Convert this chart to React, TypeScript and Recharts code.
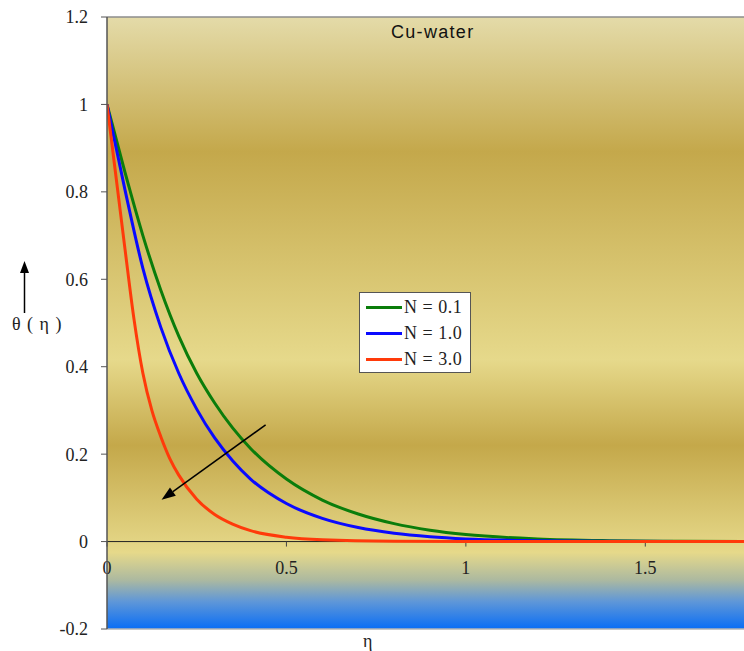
import { LineChart, Line, XAxis, YAxis, ReferenceArea, ReferenceLine, Legend } from "recharts";

// eta grid and theta(eta) values, one pair of arrays per curve
const etaN01 = [0, 0.05, 0.1, 0.15, 0.2, 0.25, 0.3, 0.35, 0.4, 0.5, 0.6, 0.7, 0.8, 0.9, 1.0, 1.2, 1.4, 1.6, 1.8];
const thetaN01 = [1, 0.845, 0.7, 0.575, 0.47, 0.385, 0.317, 0.26, 0.213, 0.143, 0.095, 0.063, 0.041, 0.026, 0.016, 0.006, 0.002, 0.0005, 0];

const etaN10 = [0, 0.05, 0.1, 0.15, 0.2, 0.25, 0.3, 0.35, 0.4, 0.5, 0.6, 0.7, 0.8, 0.9, 1.0, 1.2, 1.4, 1.6, 1.8];
const thetaN10 = [1, 0.805, 0.625, 0.49, 0.385, 0.303, 0.237, 0.185, 0.143, 0.087, 0.053, 0.032, 0.019, 0.011, 0.006, 0.002, 0.0005, 0, 0];

const etaN30 = [0, 0.025, 0.05, 0.075, 0.1, 0.125, 0.15, 0.175, 0.2, 0.25, 0.3, 0.35, 0.4, 0.5, 0.6, 0.8, 1.0, 1.4, 1.8];
const thetaN30 = [1, 0.835, 0.67, 0.51, 0.385, 0.3, 0.24, 0.19, 0.152, 0.097, 0.062, 0.04, 0.025, 0.01, 0.004, 0.0005, 0, 0, 0];

const seriesNames = ["N = 0.1", "N = 1.0", "N = 3.0"];
const seriesColors = ["#0b7d0b", "#0a0aff", "#ff3a0a"];

const xTicks = [0, 0.5, 1, 1.5];
const yTicks = [-0.2, 0, 0.2, 0.4, 0.6, 0.8, 1, 1.2];
const xDomain = [0, 1.775];
const yDomain = [-0.2, 1.2];

// direction arrow drawn inside the plot (data coords)
const arrowFrom = { x: 0.442, y: 0.267 };
const arrowTo = { x: 0.152, y: 0.0955 };

const W = 744;
const H = 651;
const MARGIN = { top: 17, right: 0, bottom: 22, left: 0 };
const PLOT_H = H - MARGIN.top - MARGIN.bottom;
const ZERO_Y = MARGIN.top + PLOT_H * (yDomain[1] / (yDomain[1] - yDomain[0]));

const serif = "'Liberation Serif', 'Times New Roman', serif";

const toPoints = (eta: number[], theta: number[]) => eta.map((e, i) => ({ eta: e, theta: theta[i] }));

// x ticks sit on the y=0 line inside the plot, so they are drawn from reference lines
const xTickShape = (label: number) => (props: any) => {
  const x = props.x1;
  return (
    <g>
      <line x1={x} x2={x} y1={ZERO_Y} y2={ZERO_Y + 5} stroke="#444" />
      <text x={x} y={ZERO_Y + 32} textAnchor="middle" fontFamily={serif} fontSize={18} fill="#222">
        {label}
      </text>
    </g>
  );
};

const ArrowShape = (props: any) => {
  const { x1, y1, x2, y2 } = props;
  const ang = Math.atan2(y2 - y1, x2 - x1);
  const len = 14;
  const half = 5;
  const bx = x2 - len * Math.cos(ang);
  const by = y2 - len * Math.sin(ang);
  const px = -Math.sin(ang) * half;
  const py = Math.cos(ang) * half;
  return (
    <g>
      <line x1={x1} y1={y1} x2={bx} y2={by} stroke="#000" strokeWidth={1.5} />
      <polygon points={`${x2},${y2} ${bx + px},${by + py} ${bx - px},${by - py}`} fill="#000" />
    </g>
  );
};

const LegendBox = (props: any) => {
  const { payload } = props;
  return (
    <div
      style={{
        border: "1px solid #555",
        background: "#fff",
        width: 112,
        height: 81,
        boxSizing: "border-box",
        paddingTop: 1,
        paddingLeft: 6,
      }}
    >
      {(payload || []).map((p: any) => (
        <div key={p.value} style={{ display: "flex", alignItems: "center", height: 26 }}>
          <span style={{ display: "inline-block", width: 36, height: 3, background: p.color, marginRight: 2 }} />
          <span style={{ fontFamily: serif, fontSize: 18, color: "#222", whiteSpace: "nowrap", letterSpacing: 0.5 }}>
            {p.value}
          </span>
        </div>
      ))}
    </div>
  );
};

export default function App() {
  const series = [
    toPoints(etaN01, thetaN01),
    toPoints(etaN10, thetaN10),
    toPoints(etaN30, thetaN30),
  ];
  return (
    <div style={{ position: "absolute", left: 0, top: 0, width: W, height: H, background: "#fff" }}>
      <LineChart width={W} height={H} margin={MARGIN}>
        <defs>
          <linearGradient id="bgGrad" x1="0" y1="0" x2="0" y2="1">
            <stop offset="0" stopColor="#e4dba9" />
            <stop offset="0.22" stopColor="#c4a84b" />
            <stop offset="0.56" stopColor="#e6d98b" />
            <stop offset="0.7" stopColor="#c4a84a" />
            <stop offset="0.875" stopColor="#e6d98a" />
            <stop offset="0.92" stopColor="#acb9a0" />
            <stop offset="0.955" stopColor="#5f97d8" />
            <stop offset="1" stopColor="#0a6ef5" />
          </linearGradient>
        </defs>
        <XAxis dataKey="eta" type="number" domain={xDomain} ticks={xTicks} allowDataOverflow hide />
        <YAxis
          type="number"
          domain={yDomain}
          ticks={yTicks}
          width={107}
          interval={0}
          axisLine={{ stroke: "#555", strokeWidth: 1.5 }}
          tickLine={{ stroke: "#555" }}
          tickSize={6}
          tickMargin={13}
          tick={{ fontFamily: serif, fontSize: 18, fill: "#222" }}
        />
        <ReferenceArea
          x1={xDomain[0]}
          x2={xDomain[1]}
          y1={yDomain[0]}
          y2={yDomain[1]}
          fill="url(#bgGrad)"
          fillOpacity={1}
          stroke="none"
        />
        <ReferenceLine y={1.2} stroke="#8c8c8c" strokeWidth={1.5} />
        <ReferenceLine y={-0.2} stroke="#b4b4b4" strokeWidth={1.5} />
        <ReferenceLine y={0} stroke="#222" strokeWidth={1} />
        {xTicks.map((t) => (
          <ReferenceLine key={`xt-${t}`} x={t} stroke="#444" shape={xTickShape(t)} />
        ))}
        {series.map((d, i) => (
          <Line
            key={seriesNames[i]}
            data={d}
            dataKey="theta"
            name={seriesNames[i]}
            type="monotone"
            stroke={seriesColors[i]}
            strokeWidth={3}
            dot={false}
            activeDot={false}
            legendType="line"
            isAnimationActive={false}
          />
        ))}
        <ReferenceLine segment={[arrowFrom, arrowTo]} stroke="#000" shape={ArrowShape} />
        <Legend
          layout="vertical"
          align="center"
          verticalAlign="middle"
          content={LegendBox}
          wrapperStyle={{ left: 359, top: 292, width: "auto", height: "auto" }}
        />
      </LineChart>

      <div
        style={{
          position: "absolute",
          left: 391,
          top: 21,
          fontFamily: "'Liberation Sans', Arial, sans-serif",
          fontSize: 18,
          letterSpacing: 1.3,
          color: "#111",
          lineHeight: "22px",
        }}
      >
        Cu-water
      </div>

      <svg style={{ position: "absolute", left: 0, top: 0 }} width={60} height={340}>
        <line x1={24.5} y1={272} x2={24.5} y2={313} stroke="#000" strokeWidth={1.5} />
        <polygon points="24.5,261 20,273 29,273" fill="#000" />
      </svg>
      <div
        style={{
          position: "absolute",
          left: 12,
          top: 312,
          fontFamily: serif,
          fontSize: 18,
          color: "#222",
          whiteSpace: "nowrap",
          lineHeight: "24px",
          letterSpacing: 1,
        }}
      >
        θ ( η )
      </div>
      <div
        style={{
          position: "absolute",
          left: 363,
          top: 631,
          fontFamily: serif,
          fontSize: 18,
          color: "#222",
          lineHeight: "20px",
        }}
      >
        η
      </div>
    </div>
  );
}
